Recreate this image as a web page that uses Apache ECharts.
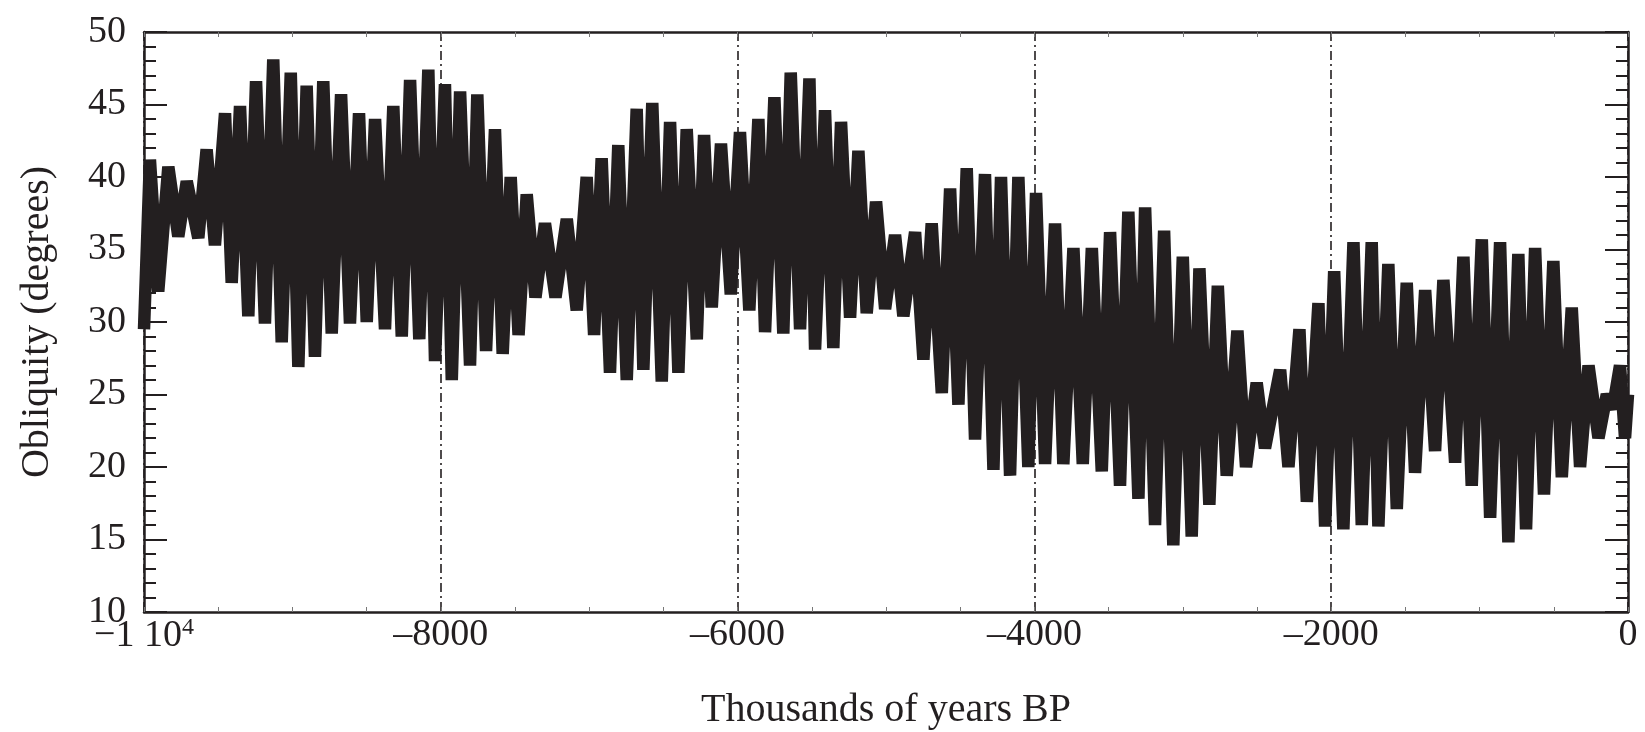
<!DOCTYPE html>
<html>
<head>
<meta charset="utf-8">
<script src="https://cdn.jsdelivr.net/npm/echarts@6/dist/echarts.min.js"></script>
<style>
html,body{margin:0;padding:0;background:#fff;}
#chart{width:1645px;height:732px;}
</style>
</head>
<body>
<div id="chart"></div>
<script>
// Time (thousands of years BP) of successive extremes of the obliquity curve
const times = [
  -10000, -9960, -9904, -9836, -9769, -9712, -9634, -9578, -9522, -9454,
  -9409, -9353, -9297, -9245, -9185, -9129, -9072, -9011, -8960, -8904,
  -8848, -8792, -8735, -8672, -8612, -8551, -8499, -8443, -8376, -8320,
  -8263, -8207, -8145, -8084, -8039, -7972, -7926, -7870, -7803, -7754,
  -7695, -7635, -7583, -7529, -7476, -7421, -7362, -7298, -7227, -7151,
  -7084, -7017, -6967, -6916, -6860, -6804, -6747, -6680, -6635, -6575,
  -6511, -6455, -6399, -6343, -6275, -6226, -6174, -6112, -6046, -5984,
  -5921, -5860, -5815, -5752, -5692, -5642, -5579, -5516, -5478, -5411,
  -5355, -5303, -5242, -5186, -5130, -5067, -5006, -4939,
  -4883, -4804, -4748, -4692, -4624, -4568, -4512, -4456, -4400, -4333,
  -4276, -4225, -4164, -4108, -4041, -3989, -3928, -3861, -3805, -3737,
  -3674, -3613, -3546, -3490, -3423, -3367, -3299, -3254,
  -3187, -3126, -3064, -3000, -2940, -2888, -2821, -2764, -2704, -2632,
  -2574, -2502, -2446, -2344, -2288, -2214, -2164, -2086, -2041, -1980,
  -1918, -1850, -1794, -1727, -1682, -1615,
  -1558, -1491, -1435, -1367, -1300, -1244, -1165, -1109, -1053, -985,
  -929, -862, -806, -739, -687, -626, -566, -503, -446, -379,
  -323, -266, -199, -143, -103, -54, -20, 0
];
// Obliquity (degrees) at those extremes
const obliquity = [
  29.5, 41.2, 32.1, 40.7, 35.9, 39.7, 35.8, 41.9, 35.3, 44.4,
  32.7, 44.9, 30.4, 46.6, 29.9, 48.1, 28.6, 47.2, 26.9, 46.3,
  27.6, 46.6, 29.2, 45.7, 29.9, 44.4, 30.0, 44.0, 29.5, 44.9,
  29.0, 46.7, 28.8, 47.4, 27.3, 46.4, 26.0, 45.9, 27.0, 45.7,
  28.0, 43.3, 27.8, 40.0, 29.1, 38.8, 31.7, 36.8, 31.7, 37.1,
  30.8, 40.0, 29.1, 41.3, 26.5, 42.2, 26.0, 44.7, 26.7, 45.1,
  25.9, 43.8, 26.5, 43.3, 28.8, 42.9, 31.0, 42.3, 31.9, 43.1,
  30.8, 44.0, 29.3, 45.5, 29.2, 47.2, 29.5, 46.8, 28.1, 44.6,
  28.2, 43.8, 30.3, 41.8, 30.6, 38.3, 30.9, 36.0,
  30.4, 36.2, 27.4, 36.8, 25.1, 39.2, 24.3, 40.6, 21.9, 40.2,
  19.8, 40.0, 19.4, 40.0, 20.0, 38.9, 20.2, 36.8, 20.2, 35.1,
  20.2, 35.1, 19.7, 36.2, 18.7, 37.6, 17.8, 37.9,
  16.0, 36.3, 14.6, 34.5, 15.2, 33.7, 17.4, 32.5, 19.4, 29.4,
  20.0, 25.8, 21.3, 26.7, 20.0, 29.5, 17.6, 31.3, 15.9, 33.5,
  15.7, 35.5, 16.0, 35.5, 15.9, 34.0,
  17.1, 32.7, 19.6, 32.2, 21.1, 32.9, 20.3, 34.5, 18.7, 35.7,
  16.5, 35.5, 14.8, 34.7, 15.7, 35.1, 18.1, 34.2, 19.3, 31.0,
  20.0, 27.0, 22.0, 25.0, 24.0, 27.0, 22.0, 25.0
];
const xTickLabels = { '-10000': '−1 10{s|4}', '-8000': '–8000', '-6000': '–6000', '-4000': '–4000', '-2000': '–2000', '0': '0' };
const xTitle = 'Thousands of years BP';
const yTitle = 'Obliquity (degrees)';

const FONT = '"Liberation Serif", "DejaVu Serif", serif';
const INK = '#231f20';

const chart = echarts.init(document.getElementById('chart'), null, { renderer: 'canvas' });
const data = times.map((t, i) => [t, obliquity[i]]);

const frameLine = { show: true, onZero: false, lineStyle: { color: INK, width: 2.5 } };

chart.setOption({
  animation: false,
  backgroundColor: '#ffffff',
  grid: { left: 144, right: 17, top: 32, bottom: 120, containLabel: false, outerBoundsMode: 'none' },
  xAxis: [
    {
      type: 'value', position: 'bottom', min: -10000, max: 0, interval: 2000,
      axisLine: frameLine,
      axisTick: { show: true, inside: true, length: 5, lineStyle: { color: '#777', width: 1 } },
      minorTick: { show: true, splitNumber: 4, length: 5, lineStyle: { color: '#777', width: 1 } },
      splitLine: { show: true, lineStyle: { color: INK, width: 1.6, type: [9, 4, 2, 4] } },
      axisLabel: {
        fontFamily: FONT, fontSize: 38, color: INK, margin: 4,
        formatter: v => xTickLabels[String(v)] !== undefined ? xTickLabels[String(v)] : '',
        rich: { s: { fontFamily: FONT, fontSize: 24, color: INK, padding: [0, 0, 16, 0] } }
      },
      name: xTitle, nameLocation: 'middle', nameGap: 78,
      nameTextStyle: { fontFamily: FONT, fontSize: 40, color: INK }
    },
    {
      type: 'value', position: 'top', min: -10000, max: 0, interval: 2000,
      axisLine: frameLine,
      axisTick: { show: true, inside: true, length: 5, lineStyle: { color: '#777', width: 1 } },
      minorTick: { show: true, splitNumber: 4, length: 5, lineStyle: { color: '#777', width: 1 } },
      splitLine: { show: false }, axisLabel: { show: false }
    }
  ],
  yAxis: [
    {
      type: 'value', position: 'left', min: 10, max: 50, interval: 5,
      axisLine: frameLine,
      axisTick: { show: true, inside: true, length: 23, lineStyle: { color: INK, width: 2 } },
      minorTick: { show: true, splitNumber: 5, length: 12, lineStyle: { color: INK, width: 2 } },
      splitLine: { show: false },
      axisLabel: { fontFamily: FONT, fontSize: 38, color: INK, margin: 18 },
      name: yTitle, nameLocation: 'middle', nameGap: 87,
      nameTextStyle: { fontFamily: FONT, fontSize: 40, color: INK }
    },
    {
      type: 'value', position: 'right', min: 10, max: 50, interval: 5,
      axisLine: frameLine,
      axisTick: { show: true, inside: true, length: 23, lineStyle: { color: INK, width: 2 } },
      minorTick: { show: true, splitNumber: 5, length: 12, lineStyle: { color: INK, width: 2 } },
      splitLine: { show: false }, axisLabel: { show: false }
    }
  ],
  series: [
    {
      type: 'line', xAxisIndex: 0, yAxisIndex: 0, data: data,
      showSymbol: false, symbol: 'none', smooth: false, clip: false,
      lineStyle: { color: INK, width: 12.5, join: 'bevel', cap: 'butt' },
      z: 3
    }
  ]
});
</script>
</body>
</html>
